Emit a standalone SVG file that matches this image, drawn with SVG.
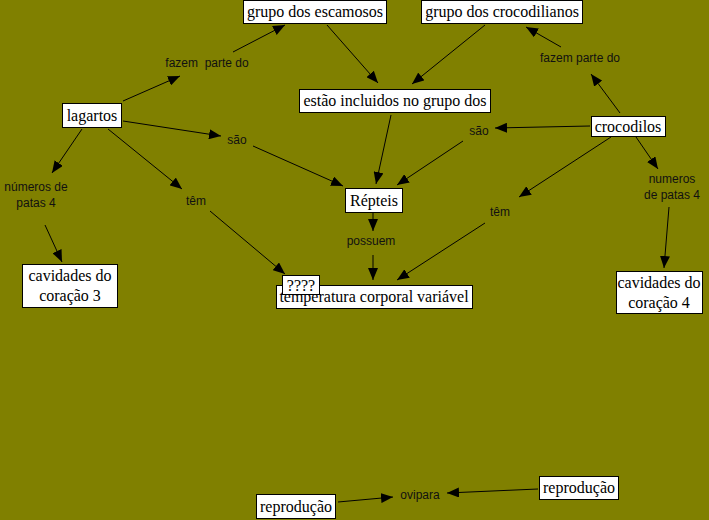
<svg xmlns="http://www.w3.org/2000/svg" width="709" height="520" viewBox="0 0 709 520">
<style>
.box{fill:#fff;stroke:#000;stroke-width:1}
.nt{font-family:"Liberation Serif","Times New Roman",serif;font-size:16px;fill:#000;text-anchor:middle}
.lt{font-family:"Liberation Sans",Arial,sans-serif;font-size:12px;fill:#111;text-anchor:middle;white-space:pre}
.c{stroke:#000;stroke-width:1;fill:none;marker-end:url(#ah)}
</style>
<defs>
<marker id="ah" markerUnits="userSpaceOnUse" markerWidth="12" markerHeight="10" refX="12" refY="5" orient="auto">
<path d="M0,0 L12,5 L0,10 z" fill="#000"/>
</marker>
</defs>
<rect width="709" height="520" fill="#808000"/>
<g id="connectors">
<path class="c" d="M123,101 L180,76"/>
<path class="c" d="M233,52 L285,25"/>
<path class="c" d="M123,121 L221,136"/>
<path class="c" d="M253,146 L343,186"/>
<path class="c" d="M82,129 L52,173"/>
<path class="c" d="M45,225 L62,262"/>
<path class="c" d="M108,129 L182,189"/>
<path class="c" d="M210,211 L285,274"/>
<path class="c" d="M327,25 L378,83"/>
<path class="c" d="M485,25 L412,84"/>
<path class="c" d="M391,115 L376,184"/>
<path class="c" d="M590,126 L495,128"/>
<path class="c" d="M463,141 L397,185"/>
<path class="c" d="M620,113 L591,74"/>
<path class="c" d="M561,47 L526,27"/>
<path class="c" d="M611,137 L519,197"/>
<path class="c" d="M485,223 L397,280"/>
<path class="c" d="M636,137 L658,169"/>
<path class="c" d="M669,207 L664,268"/>
<path class="c" d="M373,213 L373,231"/>
<path class="c" d="M373,255 L373,280"/>
<path class="c" d="M338,502 L393,497"/>
<path class="c" d="M538,489 L447,493"/>
</g>
<g id="labels">
<text class="lt" x="207" y="67" xml:space="preserve">fazem  parte do</text>
<text class="lt" x="580" y="62">fazem parte do</text>
<text class="lt" x="237" y="144">são</text>
<text class="lt" x="479" y="135">são</text>
<text class="lt" x="36" y="191">números de</text>
<text class="lt" x="36" y="207">patas 4</text>
<text class="lt" x="196" y="205">têm</text>
<text class="lt" x="500" y="216">têm</text>
<text class="lt" x="371" y="245">possuem</text>
<text class="lt" x="672" y="183">numeros</text>
<text class="lt" x="672" y="199">de patas 4</text>
<text class="lt" x="420" y="499">ovipara</text>
</g>
<g id="n-escamosos"><rect class="box" x="243.5" y="0.5" width="143" height="23"/><text class="nt" x="315" y="17">grupo dos escamosos</text></g>
<g id="n-crocodilianos"><rect class="box" x="421.5" y="0.5" width="161" height="23"/><text class="nt" x="502" y="17">grupo dos crocodilianos</text></g>
<g id="n-estao"><rect class="box" x="299.5" y="89.5" width="191" height="23"/><text class="nt" x="395" y="106">estão incluidos no grupo dos</text></g>
<g id="n-lagartos"><rect class="box" x="62.5" y="103.5" width="59" height="24"/><text class="nt" x="92" y="121">lagartos</text></g>
<g id="n-crocodilos"><rect class="box" x="591.5" y="116.5" width="74" height="20"/><text class="nt" x="628" y="132">crocodilos</text></g>
<g id="n-repteis"><rect class="box" x="345.5" y="188.5" width="57" height="24"/><text class="nt" x="374" y="206">Répteis</text></g>
<g id="n-cav3"><rect class="box" x="22.5" y="264.5" width="95" height="43"/><text class="nt" x="70" y="281">cavidades do</text><text class="nt" x="70" y="301">coração 3</text></g>
<g id="n-cav4"><rect class="box" x="616.5" y="271.5" width="86" height="42"/><text class="nt" x="659" y="288">cavidades do</text><text class="nt" x="659" y="308">coração 4</text></g>
<g id="n-temperatura"><rect class="box" x="276.5" y="285.5" width="196" height="23"/><text class="nt" x="374" y="302">temperatura corporal variável</text></g>
<g id="n-q"><rect class="box" x="282.5" y="275.5" width="37" height="19"/><text class="nt" x="301" y="291">????</text></g>
<g id="n-repro1"><rect class="box" x="256.5" y="494.5" width="79" height="24"/><text class="nt" x="296" y="512">reprodução</text></g>
<g id="n-repro2"><rect class="box" x="539.5" y="476.5" width="79" height="23"/><text class="nt" x="579" y="493">reprodução</text></g>
</svg>
